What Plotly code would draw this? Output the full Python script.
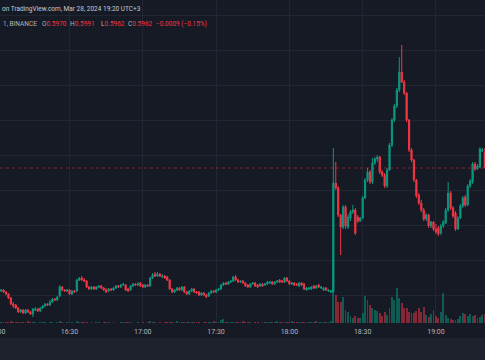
import plotly.graph_objects as go
import pandas as pd

# ---------------- data (1-minute candles, 2024-03-28 16:00 -> 19:20, UTC+3) ----------------
start = "2024-03-28 16:00"

open_ = [
    0.5902, 0.59015, 0.59005, 0.5901, 0.5900, 0.5899, 0.5897, 0.5894, 0.58935, 0.5892,
    0.5890, 0.5891, 0.58895, 0.5891, 0.5890, 0.5889, 0.5891, 0.58915, 0.58905, 0.5892,
    0.5893, 0.5894, 0.58935, 0.5895, 0.58965, 0.5896, 0.5898, 0.59025, 0.5901, 0.59005,
    0.5901, 0.5899, 0.59005, 0.59005, 0.5906, 0.5907, 0.5906, 0.59055, 0.59025, 0.59015,
    0.59025, 0.59015, 0.59025, 0.5903, 0.5902, 0.5901, 0.59005, 0.59015, 0.5901, 0.5902,
    0.5903, 0.59025, 0.59035, 0.59035, 0.59015, 0.5901, 0.5903, 0.5904, 0.59035, 0.59045,
    0.59035, 0.59025, 0.59035, 0.5903, 0.5907, 0.5909, 0.5908, 0.5909, 0.59075, 0.5908,
    0.59075, 0.5906, 0.59015, 0.5900, 0.5901, 0.5902, 0.5901, 0.59025, 0.5900, 0.5899,
    0.59005, 0.59015, 0.5900, 0.5900, 0.58985, 0.58995, 0.58985, 0.5898, 0.58995, 0.59005,
    0.5900, 0.5901, 0.59015, 0.59035, 0.59045, 0.5904, 0.5905, 0.59055, 0.59075, 0.5906,
    0.5905, 0.59055, 0.59045, 0.59035, 0.59025, 0.5904, 0.59045, 0.59035, 0.5903, 0.5904,
    0.59035, 0.5904, 0.59045, 0.5905, 0.5904, 0.5905, 0.5906, 0.59055, 0.5905, 0.5907,
    0.59055, 0.5904, 0.59045, 0.5904, 0.5903, 0.59045, 0.5904, 0.5901, 0.59015, 0.59015,
    0.5903, 0.5902, 0.59035, 0.5902, 0.5901, 0.5902, 0.59005, 0.5900,
    0.5900, 0.59545, 0.5952, 0.59385, 0.59325, 0.59425, 0.59325, 0.5937, 0.5940, 0.5941, 0.59375, 0.59355,
    0.5937, 0.5947, 0.5956, 0.5960, 0.5955, 0.59645, 0.59665, 0.59675, 0.5960, 0.59585,
    0.5953, 0.5961, 0.59735, 0.5986, 0.5993, 0.6001, 0.6010, 0.6005, 0.59995, 0.5986,
    0.5971, 0.5966, 0.5956, 0.59485, 0.59445, 0.5941, 0.59365, 0.59385, 0.5933, 0.5935,
    0.59315, 0.5932, 0.59295, 0.5933, 0.59345, 0.5941, 0.59495, 0.5942, 0.59395, 0.59315,
    0.5937, 0.5943, 0.59475, 0.59435, 0.5953, 0.5955, 0.5964, 0.59615, 0.59625, 0.59705,
    0.5970,
]

high = [
    0.59025, 0.5902, 0.59015, 0.59015, 0.59005, 0.58995, 0.58975, 0.5895, 0.5894, 0.58925,
    0.58915, 0.58915, 0.58915, 0.58915, 0.58905, 0.5892, 0.58925, 0.5892, 0.58925, 0.58935,
    0.58945, 0.58945, 0.5896, 0.5897, 0.5897, 0.5898, 0.59035, 0.5903, 0.59015, 0.59015,
    0.59015, 0.5901, 0.5901, 0.59065, 0.59075, 0.5908, 0.5907, 0.5906, 0.5903, 0.5903,
    0.5903, 0.5903, 0.59035, 0.59035, 0.59025, 0.5902, 0.5902, 0.5902, 0.59025, 0.59035,
    0.59035, 0.5904, 0.59045, 0.5904, 0.5902, 0.59035, 0.59045, 0.59045, 0.5905, 0.5905,
    0.5904, 0.5904, 0.5904, 0.59075, 0.59095, 0.5910, 0.5910, 0.59095, 0.5909, 0.59085,
    0.5908, 0.59065, 0.5902, 0.59015, 0.59025, 0.59025, 0.5903, 0.5903, 0.59005, 0.5901,
    0.5902, 0.5902, 0.59005, 0.59005, 0.5900, 0.5900, 0.5899, 0.5900, 0.5901, 0.5901,
    0.59015, 0.5902, 0.5904, 0.5905, 0.5905, 0.59055, 0.5906, 0.5908, 0.59085, 0.59065,
    0.5906, 0.5906, 0.5905, 0.5904, 0.59045, 0.5905, 0.5905, 0.5904, 0.59045, 0.59045,
    0.59045, 0.59055, 0.59055, 0.59055, 0.59055, 0.5906, 0.59065, 0.5906, 0.59075, 0.59075,
    0.5906, 0.5905, 0.5905, 0.59045, 0.5905, 0.5905, 0.59045, 0.59025, 0.59025, 0.5903,
    0.59035, 0.59035, 0.5904, 0.5903, 0.59025, 0.59025, 0.59015, 0.5901,
    0.5972, 0.5965, 0.5953, 0.5939, 0.59435, 0.59435, 0.5939, 0.5941, 0.59435, 0.5942, 0.59385, 0.59375,
    0.5948, 0.5957, 0.5962, 0.5961, 0.5967, 0.59675, 0.59685, 0.5968, 0.5961, 0.59595,
    0.5962, 0.59745, 0.5987, 0.5994, 0.6002, 0.60175, 0.60235, 0.6006, 0.6000, 0.59865,
    0.5972, 0.59665, 0.59565, 0.59495, 0.5946, 0.5942, 0.59395, 0.5939, 0.59355, 0.59355,
    0.5934, 0.5933, 0.5934, 0.5936, 0.5942, 0.5955, 0.59505, 0.5943, 0.59405, 0.5938,
    0.5944, 0.5948, 0.59485, 0.5954, 0.59565, 0.5965, 0.5965, 0.5964, 0.59725, 0.5972,
    0.5972,
]

low = [
    0.59005, 0.5900, 0.5900, 0.58995, 0.58985, 0.58965, 0.58935, 0.5892, 0.58915, 0.58895,
    0.58895, 0.5889, 0.5889, 0.58895, 0.58885, 0.58875, 0.58905, 0.5890, 0.5890, 0.58915,
    0.58925, 0.5893, 0.5893, 0.58945, 0.58955, 0.58955, 0.58975, 0.59005, 0.5900, 0.5900,
    0.58985, 0.58985, 0.58995, 0.5900, 0.59055, 0.59055, 0.5905, 0.5902, 0.5901, 0.5901,
    0.5901, 0.5901, 0.5902, 0.59015, 0.59005, 0.58995, 0.5900, 0.59005, 0.59005, 0.59015,
    0.5902, 0.5902, 0.5903, 0.59005, 0.5900, 0.59005, 0.59025, 0.5903, 0.5903, 0.59025,
    0.5902, 0.5902, 0.59025, 0.59025, 0.59065, 0.59075, 0.59075, 0.59075, 0.5907, 0.59065,
    0.59055, 0.5901, 0.58995, 0.58995, 0.59005, 0.59005, 0.59005, 0.58995, 0.58985, 0.58985,
    0.5900, 0.58995, 0.5899, 0.5898, 0.5898, 0.5898, 0.5897, 0.58975, 0.5899, 0.58995,
    0.58995, 0.59005, 0.5901, 0.5903, 0.59035, 0.59035, 0.59045, 0.5905, 0.59055, 0.59045,
    0.59045, 0.5904, 0.59025, 0.5902, 0.5902, 0.59035, 0.59025, 0.5902, 0.59025, 0.59025,
    0.5903, 0.59035, 0.5904, 0.59035, 0.59035, 0.59045, 0.59045, 0.59045, 0.59045, 0.5905,
    0.59035, 0.59035, 0.5903, 0.5903, 0.59025, 0.5903, 0.5901, 0.59005, 0.5901, 0.5901,
    0.59015, 0.59015, 0.5902, 0.59015, 0.59005, 0.59005, 0.5900, 0.58995,
    0.58995, 0.5951, 0.59375, 0.59185, 0.59315, 0.59315, 0.59315, 0.59355, 0.5939, 0.59285, 0.59345, 0.5935,
    0.59365, 0.59465, 0.5955, 0.5954, 0.5954, 0.59635, 0.5965, 0.5959, 0.59575, 0.5952,
    0.5952, 0.59605, 0.59725, 0.5985, 0.5992, 0.6000, 0.60045, 0.59985, 0.5985, 0.5970,
    0.5965, 0.5955, 0.5947, 0.59435, 0.5940, 0.59355, 0.59355, 0.5932, 0.5932, 0.59305,
    0.5929, 0.5928, 0.59285, 0.5932, 0.5934, 0.5940, 0.5941, 0.5937, 0.59305, 0.5931,
    0.59365, 0.5942, 0.59425, 0.5943, 0.5952, 0.5954, 0.59605, 0.5961, 0.5962, 0.5970,
    0.5962,
]

close = [
    0.5901, 0.59005, 0.5901, 0.5900, 0.5899, 0.5897, 0.5894, 0.5893, 0.5892, 0.5890,
    0.5891, 0.58895, 0.5891, 0.5890, 0.5889, 0.58915, 0.58915, 0.58905, 0.5892, 0.5893,
    0.5894, 0.58935, 0.5895, 0.58965, 0.5896, 0.58975, 0.59025, 0.5901, 0.59005, 0.5901,
    0.5899, 0.59005, 0.5900, 0.5906, 0.5907, 0.5906, 0.59055, 0.59025, 0.59015, 0.59025,
    0.59015, 0.59025, 0.5903, 0.5902, 0.5901, 0.5900, 0.59015, 0.5901, 0.5902, 0.5903,
    0.59025, 0.59035, 0.5904, 0.5901, 0.59005, 0.5903, 0.5904, 0.59035, 0.5904, 0.5903,
    0.59025, 0.59035, 0.5903, 0.5907, 0.59085, 0.5908, 0.5909, 0.5908, 0.5908, 0.5907,
    0.5906, 0.59015, 0.5900, 0.5901, 0.5902, 0.5901, 0.59025, 0.5900, 0.5899, 0.59005,
    0.59015, 0.5900, 0.58995, 0.58985, 0.58995, 0.58985, 0.58975, 0.58995, 0.59005, 0.5900,
    0.5901, 0.59015, 0.59035, 0.59045, 0.5904, 0.5905, 0.59055, 0.59075, 0.5906, 0.5905,
    0.59055, 0.59045, 0.5903, 0.59025, 0.5904, 0.59045, 0.5903, 0.59025, 0.5904, 0.5903,
    0.5904, 0.5905, 0.5905, 0.5904, 0.5905, 0.59055, 0.5905, 0.5905, 0.5907, 0.59055,
    0.5904, 0.59045, 0.59035, 0.59035, 0.59045, 0.59035, 0.59015, 0.5902, 0.5902, 0.59025,
    0.5902, 0.5903, 0.59025, 0.59025, 0.5902, 0.5901, 0.5901, 0.59005,
    0.59545, 0.5952, 0.59385, 0.59325, 0.59425, 0.5933, 0.59375, 0.5940, 0.5941, 0.59295, 0.59355, 0.5937,
    0.5947, 0.5956, 0.5960, 0.5955, 0.59645, 0.59665, 0.59675, 0.5960, 0.59585, 0.5953,
    0.5961, 0.59735, 0.5986, 0.5993, 0.6001, 0.6010, 0.6005, 0.59995, 0.5986, 0.5971,
    0.5966, 0.5956, 0.5948, 0.59445, 0.5941, 0.59365, 0.59385, 0.5933, 0.5935, 0.59315,
    0.5930, 0.5929, 0.5933, 0.5935, 0.5941, 0.59495, 0.5942, 0.5938, 0.59315, 0.5937,
    0.5943, 0.5947, 0.59435, 0.5953, 0.59555, 0.5964, 0.59615, 0.5963, 0.59715, 0.5971,
    0.5962,
]

# volume, thousands
volume = [
    3, 2, 3, 4, 3, 5, 8, 4, 3, 4,
    3, 4, 5, 10, 4, 6, 3, 2, 3, 4,
    4, 2, 3, 4, 2, 3, 8, 4, 2, 3,
    6, 3, 2, 7, 5, 4, 3, 4, 2, 3,
    2, 4, 3, 2, 3, 4, 3, 2, 3, 2,
    2, 3, 3, 4, 3, 3, 2, 2, 3, 2,
    3, 2, 3, 8, 6, 3, 2, 3, 2, 3,
    3, 6, 4, 3, 7, 3, 3, 6, 4, 3,
    6, 3, 3, 4, 2, 3, 4, 3, 3, 10,
    6, 4, 12, 18, 5, 4, 3, 6, 5, 3,
    5, 7, 4, 3, 3, 2, 3, 3, 2, 3,
    3, 3, 5, 3, 4, 7, 3, 3, 5, 4,
    3, 7, 4, 3, 3, 3, 6, 4, 3, 5,
    4, 8, 5, 3, 4, 3, 5, 8,
    260, 112, 84, 84, 104, 52, 44, 28, 20, 28, 20, 20,
    40, 108, 92, 72, 60, 52, 48, 40, 28, 44,
    32, 60, 104, 92, 140, 100, 80, 60, 60, 44,
    40, 40, 48, 60, 44, 64, 32, 24, 36, 52,
    28, 20, 44, 120, 32, 20, 16, 12, 12, 16,
    28, 40, 36, 28, 36, 28, 32, 20, 24, 32,
    36,
]

header_line1 = "on TradingView.com, Mar 28, 2024 19:20 UTC+3"
header_symbol = "1, BINANCE"
header_ohlc = [("O", "0.5970"), ("H", "0.5991"), ("L", "0.5962"), ("C", "0.5962")]
header_change = "\u22120.0009 (\u22120.15%)"

# ---------------- style ----------------
W, H = 485, 360
PLOT_H = 323                     # plot area height (time axis below)
BG = "#161a25"
GRID = "#222633"
UP = "#089981"
DOWN = "#f23645"
UP_VOL = "rgba(8,153,129,0.5)"
DOWN_VOL = "rgba(242,54,69,0.5)"
TXT = "#b2b5be"
FONT = "Roboto"
FS = 6.5

times = pd.date_range(start, periods=len(close), freq="min")
x0 = times[0] + pd.Timedelta(seconds=93)
x1 = times[0] + pd.Timedelta(seconds=12005)

vol_colors = [UP_VOL if c >= o else DOWN_VOL for o, c in zip(open_, close)]

fig = go.Figure()
fig.add_trace(go.Bar(
    x=times, y=volume, yaxis="y", marker=dict(color=vol_colors, line=dict(width=0)),
    width=46000, hoverinfo="skip", showlegend=False,
))
fig.add_trace(go.Candlestick(
    x=times, open=open_, high=high, low=low, close=close, yaxis="y2",
    increasing=dict(line=dict(color=UP, width=1), fillcolor=UP),
    decreasing=dict(line=dict(color=DOWN, width=1), fillcolor=DOWN),
    whiskerwidth=0, showlegend=False,
))

annotations = []
annotations.append(dict(text=header_line1, x=0, xref="paper", xanchor="left",
                        y=1 - 9 / PLOT_H, yref="paper", yanchor="middle",
                        showarrow=False, font=dict(family=FONT, size=FS, color="#c8cbd3")))
annotations.append(dict(text=header_symbol, x=1 / W, xref="paper", xanchor="left",
                        y=1 - 24 / PLOT_H, yref="paper", yanchor="middle",
                        showarrow=False, font=dict(family=FONT, size=FS, color=TXT)))
for (lab, val), xp in zip(header_ohlc, [40, 68, 99, 126]):
    annotations.append(dict(
        text=f"<span style='color:{TXT}'>{lab}</span>{val}", x=xp / W, xref="paper", xanchor="left",
        y=1 - 24 / PLOT_H, yref="paper", yanchor="middle", showarrow=False,
        font=dict(family=FONT, size=FS, color=DOWN)))
annotations.append(dict(text=header_change, x=154 / W, xref="paper", xanchor="left",
                        y=1 - 24 / PLOT_H, yref="paper", yanchor="middle",
                        showarrow=False, font=dict(family=FONT, size=FS, color=DOWN)))
# partially visible 16:00 time label at the left edge
frac_1600 = (times[0] - x0) / (x1 - x0)
annotations.append(dict(text=times[0].strftime("%H:%M"), x=frac_1600, xref="paper", xanchor="center",
                        y=-9 / PLOT_H, yref="paper", yanchor="middle", showarrow=False,
                        font=dict(family=FONT, size=7, color=TXT)))

shapes = [
    dict(type="rect", xref="paper", yref="paper", x0=-0.01, x1=1.01,
         y0=-(338 - PLOT_H) / PLOT_H, y1=-(380 - PLOT_H) / PLOT_H,
         fillcolor="#1e222d", line=dict(width=0), layer="below"),
    dict(type="line", xref="paper", yref="y2", x0=0, x1=1, y0=close[-1], y1=close[-1],
         line=dict(color="rgba(242,54,69,0.45)", width=1, dash="dot")),
]

fig.update_layout(
    width=W, height=H, autosize=False,
    margin=dict(l=0, r=0, t=0, b=H - PLOT_H, pad=0),
    paper_bgcolor=BG, plot_bgcolor=BG,
    showlegend=False, bargap=0, hovermode=False,
    xaxis=dict(type="date", range=[x0, x1], rangeslider=dict(visible=False),
               tick0=start, dtick=30 * 60 * 1000, tickformat="%H:%M",
               showgrid=True, gridcolor=GRID, gridwidth=1, zeroline=False, showline=False,
               ticks="", tickfont=dict(family=FONT, size=7, color=TXT), ticklabelstandoff=3),
    yaxis=dict(range=[0, 1292], visible=False, fixedrange=True),
    yaxis2=dict(range=[0.58845, 0.6046], overlaying="y", side="right",
                showticklabels=False, ticks="", showgrid=True, gridcolor=GRID,
                tick0=0.5951, dtick=0.00175, zeroline=False, showline=False),
    annotations=annotations, shapes=shapes,
)

fig.write_html(
    "out.html",
    config={"displayModeBar": False, "staticPlot": True},
    post_script="document.body.style.margin='0';document.body.style.background='" + BG + "';",
)
